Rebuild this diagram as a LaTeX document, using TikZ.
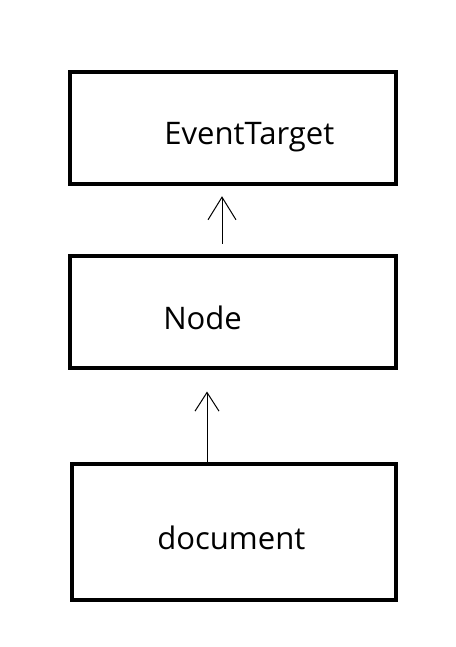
\documentclass[tikz,border=0pt]{standalone}
\usepackage{fontspec}
\setmainfont{Open Sans}
\usetikzlibrary{arrows.meta}
\colorlet{fg}{black}
\colorlet{bg}{white}
\tikzset{
  classbox/.style={draw=fg, line width=3.3pt, inner sep=0pt},
  label/.style={anchor=base west, inner sep=0pt, font=\fontsize{23.3}{28}\selectfont},
  inherit/.style={draw=fg, line width=0.75pt}
}

\begin{document}
\begin{tikzpicture}[x=0.75pt, y=-0.75pt]
	    \useasboundingbox[fill=bg] (0,0) rectangle (456,647);
	    \node[classbox, minimum width=244.5pt, minimum height=84pt] (target) at (233,128) {};
	    \node[classbox, minimum width=244.5pt, minimum height=84pt] (node) at (233,312) {};
	    \node[classbox, minimum width=243pt, minimum height=102pt] (doc) at (234,532) {};
	    \node[label] (targetname) at (164,144) {EventTarget};
	    \node[label] (nodename) at (163,329) {Node};
	    \node[label] (docname) at (157,549) {document};
	    \draw[inherit, -{Straight Barb[length=17pt, width=21pt]}, shorten <=7.5pt, shorten >=7.5pt]
	        ([xshift=-8.25pt]node.north) -- ([xshift=-8.25pt]target.south);
	    \draw[inherit, -{Straight Barb[length=14pt, width=18pt]}, shorten <=0pt, shorten >=16pt]
	        ([xshift=-20.25pt]doc.north) -- ([xshift=-19.5pt]node.south);
        \end{tikzpicture}
\end{document}
